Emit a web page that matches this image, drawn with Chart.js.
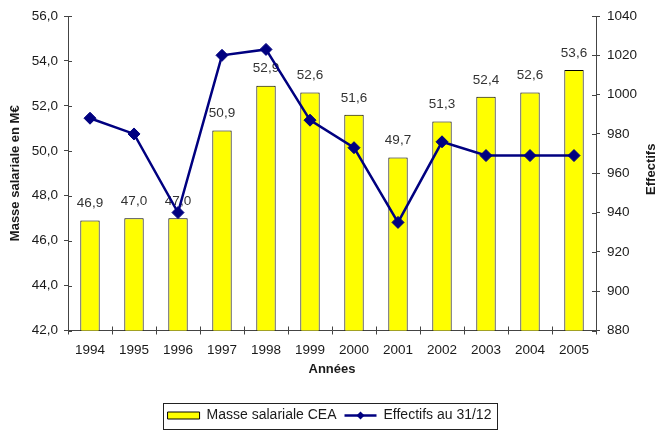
<!DOCTYPE html>
<html><head><meta charset="utf-8">
<script src="https://cdn.jsdelivr.net/npm/chart.js@4"></script>
<style>html,body{margin:0;padding:0;background:#fff}</style>
</head><body>
<canvas id="c" width="659" height="430"></canvas>
<script>
const years = ['1994','1995','1996','1997','1998','1999','2000','2001','2002','2003','2004','2005'];
const masseSalariale = [46.9, 47.0, 47.0, 50.9, 52.9, 52.6, 51.6, 49.7, 51.3, 52.4, 52.6, 53.6];
const effectifs = [988, 980, 940, 1020, 1023, 987, 973, 935, 976, 969, 969, 969];
const leftAxisRange = [42, 56, 2];
const rightAxisRange = [880, 1040, 20];
const seriesNames = ['Masse salariale CEA', 'Effectifs au 31/12'];
const titleX = 'Années';
const titleLeft = 'Masse salariale en M€';
const titleRight = 'Effectifs';

const FONT = '"Liberation Sans", Arial, Helvetica, sans-serif';
const TXT = '#1a1a1a';
const AX = '#444444';
const fmt = v => Number(v).toFixed(1).replace('.', ',');

Chart.defaults.font.family = FONT;
Chart.defaults.color = TXT;

const innerTicks = {
  id: 'innerTicks',
  afterDraw(chart) {
    const {ctx, chartArea: a, scales: {x, y, y1}} = chart;
    ctx.save();
    ctx.strokeStyle = AX; ctx.lineWidth = 1;
    ctx.beginPath();
    y.ticks.forEach((t, i) => { const p = Math.round(y.getPixelForTick(i)) + 0.5; ctx.moveTo(a.left, p); ctx.lineTo(a.left + 4, p); });
    y1.ticks.forEach((t, i) => { const p = Math.round(y1.getPixelForTick(i)) + 0.5; ctx.moveTo(a.right - 4, p); ctx.lineTo(a.right, p); });
    const half = (x.getPixelForTick(1) - x.getPixelForTick(0)) / 2;
    for (let i = 0; i <= years.length; i++) {
      const p = Math.round(x.getPixelForTick(Math.min(i, years.length - 1)) + (i === years.length ? half : -half)) + 0.5;
      ctx.moveTo(p, a.bottom - 4); ctx.lineTo(p, a.bottom);
    }
    ctx.stroke();
    ctx.restore();
  }
};

const barLabels = {
  id: 'barLabels',
  afterDatasetDraw(chart, args) {
    if (args.index !== 0) return;
    const {ctx} = chart;
    ctx.save();
    ctx.font = '13.5px ' + FONT;
    ctx.fillStyle = '#333';
    ctx.textAlign = 'center';
    ctx.textBaseline = 'middle';
    args.meta.data.forEach((bar, i) => ctx.fillText(fmt(masseSalariale[i]), bar.x, bar.y - 17));
    ctx.restore();
  }
};

const extras = {
  id: 'extras',
  afterDraw(chart) {
    const {ctx, chartArea: a} = chart;
    ctx.save();
    ctx.font = 'bold 13px ' + FONT;
    ctx.fillStyle = TXT;
    ctx.textAlign = 'center';
    ctx.textBaseline = 'middle';
    ctx.translate(chart.width - 8, (a.top + a.bottom) / 2 - 4);
    ctx.rotate(-Math.PI / 2);
    ctx.fillText(titleRight, 0, 0);
    ctx.restore();
    const hb = chart.legend && chart.legend.legendHitBoxes;
    if (hb && hb.length) {
      const l = hb[0].left - 5, r = hb[hb.length - 1].left + hb[hb.length - 1].width + 5;
      const t = hb[0].top - 6, b = hb[0].top + hb[0].height + 6;
      ctx.save();
      ctx.strokeStyle = '#222'; ctx.lineWidth = 1;
      ctx.strokeRect(Math.round(l) + 0.5, Math.round(t) + 0.5, Math.round(r - l), Math.round(b - t));
      const it = hb[1];
      const cx = it.left + 16, cy = it.top + 7, rr = 4;
      ctx.fillStyle = '#000080';
      ctx.beginPath();
      ctx.moveTo(cx, cy - rr); ctx.lineTo(cx + rr, cy); ctx.lineTo(cx, cy + rr); ctx.lineTo(cx - rr, cy); ctx.closePath();
      ctx.fill();
      ctx.restore();
    }
  }
};

new Chart(document.getElementById('c'), {
  type: 'bar',
  data: {
    labels: years,
    datasets: [
      {
        type: 'bar', label: seriesNames[0], data: masseSalariale, yAxisID: 'y',
        backgroundColor: '#ffff00', borderColor: '#000000', borderWidth: 1, borderSkipped: false,
        barPercentage: 0.44, categoryPercentage: 1.0, order: 1
      },
      {
        type: 'line', label: seriesNames[1], data: effectifs, yAxisID: 'y1',
        borderColor: '#000080', backgroundColor: '#000080', borderWidth: 2.5,
        pointStyle: 'rectRot', pointRadius: 6, pointBackgroundColor: '#000080',
        pointBorderColor: '#000080', pointBorderWidth: 1, tension: 0, fill: false, order: 0
      }
    ]
  },
  options: {
    responsive: false,
    animation: false,
    layout: {padding: {left: 0, right: 0, top: 16, bottom: -2.5}},
    plugins: {
      tooltip: {enabled: false},
      legend: {
        position: 'bottom',
        labels: {
          usePointStyle: true, pointStyleWidth: 32, boxHeight: 7, padding: 8,
          font: {size: 14}, color: TXT,
          sort: (a, b) => a.datasetIndex - b.datasetIndex,
          generateLabels(chart) {
            const items = Chart.defaults.plugins.legend.labels.generateLabels(chart);
            items.forEach(it => {
              if (it.datasetIndex === 0) {
                it.pointStyle = 'rect'; it.lineWidth = 1; it.strokeStyle = '#000000'; it.fillStyle = '#ffff00';
              } else {
                it.pointStyle = 'line'; it.lineWidth = 2.5; it.strokeStyle = '#000080'; it.fillStyle = '#000080';
              }
            });
            return items;
          }
        }
      }
    },
    scales: {
      x: {
        grid: {offset: true, drawOnChartArea: false, drawTicks: true, tickLength: 4, color: AX},
        border: {color: AX},
        ticks: {font: {size: 13.5}, padding: 8, color: TXT, maxRotation: 0, autoSkip: false},
        title: {display: true, text: titleX, font: {size: 13, weight: 'bold'}, color: TXT, padding: {top: 0, bottom: 23}},
        afterFit(s) { s.height = 70; }
      },
      y: {
        position: 'left',
        min: leftAxisRange[0], max: leftAxisRange[1],
        ticks: {stepSize: leftAxisRange[2], callback: v => fmt(v), font: {size: 13.5}, padding: 6, color: TXT},
        grid: {drawOnChartArea: false, tickLength: 4, color: AX},
        border: {color: AX},
        title: {display: true, text: titleLeft, font: {size: 13, weight: 'bold'}, color: TXT, padding: {top: 7.5, bottom: 0}},
        afterFit(s) { s.width = 68; }
      },
      y1: {
        position: 'right',
        min: rightAxisRange[0], max: rightAxisRange[1],
        ticks: {stepSize: rightAxisRange[2], callback: v => String(v), font: {size: 13.5}, padding: 7, color: TXT},
        grid: {drawOnChartArea: false, tickLength: 4, color: AX},
        border: {color: AX},
        afterFit(s) { s.width = 63; }
      }
    }
  },
  plugins: [barLabels, innerTicks, extras]
});
</script>
</body></html>
